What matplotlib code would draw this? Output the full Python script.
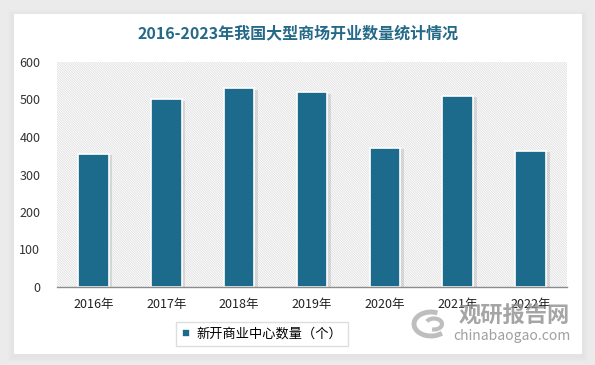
import matplotlib
matplotlib.use("Agg")
import matplotlib.pyplot as plt
from matplotlib.patches import Rectangle, Arc
import numpy as np

plt.rcParams['font.family'] = ['Noto Sans CJK SC', 'DejaVu Sans']
plt.rcParams['hatch.linewidth'] = 0.5

years = ["2016年", "2017年", "2018年", "2019年", "2020年", "2021年", "2022年"]
values = [355, 501, 530, 520, 371, 510, 363]
yticks = [0, 100, 200, 300, 400, 500, 600]
title = "2016-2023年我国大型商场开业数量统计情况"
legend_label = "新开商业中心数量（个）"

W, H = 595, 365
fig = plt.figure(figsize=(W/100, H/100), dpi=100)
fig.patch.set_facecolor('#ebebeb')

# card with soft shadow
bg = fig.add_axes([0, 0, 1, 1], zorder=-10)
bg.set_xlim(0, W); bg.set_ylim(H, 0); bg.axis('off')
for i, a in enumerate([0.03, 0.04, 0.05]):
    d = 6 - 2*i
    bg.add_patch(Rectangle((14-d, 14-d+2), 568+2*d, 340+2*d, facecolor='#b0b0b0', alpha=a, edgecolor='none'))
bg.add_patch(Rectangle((14, 14), 568, 340, facecolor='white', edgecolor='none'))

ax = fig.add_axes([57/W, (H-287)/H, 510/W, 225/H])
ax.set_facecolor('none')
x = np.arange(len(years))
ax.set_xlim(-0.5, len(years)-0.5)
ax.set_ylim(0, 600)
# hatched plot area
ax.add_patch(Rectangle((-0.5, 0), len(years), 600, facecolor='white', edgecolor='#d9d9d9',
                       hatch='\\' * 14, linewidth=0, zorder=0))
# shadow
ax.bar(x + 0.035, values, width=0.45, bottom=-4, color='#000000', alpha=0.10, zorder=1, linewidth=0)
ax.bar(x, values, width=0.42, color='#1c6a8c', edgecolor='white', linewidth=1.2, zorder=2,
       label=legend_label)

ax.set_yticks(yticks)
ax.set_yticklabels([str(v) for v in yticks], fontsize=9, color='#333333')
ax.set_xticks(x)
ax.set_xticklabels(years, fontsize=9, color='#222222')
ax.tick_params(axis='both', length=0, pad=8)
ax.tick_params(axis='y', pad=12)
for s in ['top', 'right', 'left']:
    ax.spines[s].set_visible(False)
ax.spines['bottom'].set_color('#8c8c8c')
ax.spines['bottom'].set_linewidth(1)
ax.spines['bottom'].set_zorder(3)

fig.text(298/W, 1-33/H, title, ha='center', va='center', fontsize=11.5, fontweight='bold',
         color='#246a88')

leg = fig.legend(loc='center', bbox_to_anchor=(262/W, 1-334/H), fontsize=9.5, frameon=True,
                 fancybox=False, edgecolor='#d6d6d6', handlelength=0.6, handleheight=0.6,
                 handletextpad=0.5, borderpad=0.45)

# watermark
fig.text(514/W, 1-316/H, "观研报告网", ha='center', va='center', fontsize=16, fontweight='heavy',
         color='#8f8f8f', alpha=0.8)
fig.text(512/W, 1-336/H, "chinabaogao.com", ha='center', va='center', fontsize=10,
         color='#8f8f8f', alpha=0.85)
bg.add_patch(Arc((431, 324), 34, 24, theta1=40, theta2=300, color='#a8a8a8', lw=3.5, alpha=0.75))
bg.add_patch(Arc((434, 324), 16, 11, theta1=200, theta2=470, color='#a8a8a8', lw=3, alpha=0.75))

fig.savefig("out.png", dpi=100, facecolor=fig.get_facecolor())
